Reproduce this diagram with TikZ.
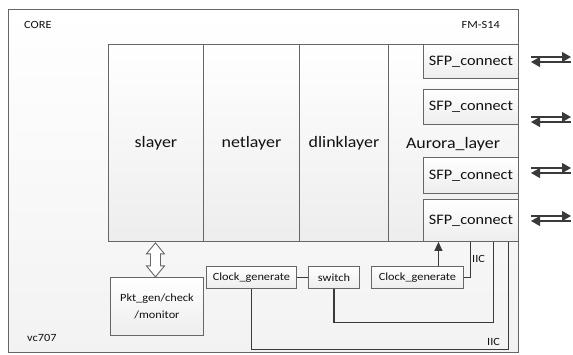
\documentclass[tikz,border=0pt]{standalone}
\usepackage{fontspec}
\setmainfont{Carlito}[FakeStretch=1.12]
\usetikzlibrary{arrows.meta,calc}
\definecolor{edge}{HTML}{666666}
\definecolor{wire}{HTML}{3A3A3A}
\definecolor{txt}{HTML}{111111}
\tikzset{
  boxbase/.style={draw=edge, line width=0.9pt, top color=white, bottom color=black!7, text=txt, inner sep=0pt, anchor=north west},
  layerbox/.style={boxbase, font=\fontsize{16}{18}\selectfont},
  sfpbox/.style={boxbase, minimum width=95pt, font=\fontsize{14.5}{16}\selectfont},
  smallbox/.style={boxbase, minimum height=22pt, font=\fontsize{11}{13}\selectfont},
  lbl/.style={text=txt, inner sep=0pt, font=\fontsize{11}{13}\selectfont},
  wireline/.style={draw=wire, line width=1.1pt},
  biarrow/.style={draw=wire, line width=1.2pt, -{Triangle[length=9pt,width=10pt]}},
}
\begin{document}
\begin{tikzpicture}[x=1pt,y=-1pt]
\useasboundingbox (0,0) rectangle (573,354);
% board
\node[boxbase, top color=white, bottom color=black!5, minimum width=510pt, minimum height=343pt] (board) at (8,9) {};
\node[lbl, anchor=west] (core) at (24,25) {CORE};
\node[lbl, anchor=east] (fms) at (500,25) {FM-S14};
\node[lbl, anchor=west] (vc) at (27,338) {vc707};
% layers
\node[layerbox, minimum width=95pt, minimum height=197pt] (slayer) at (108,44) {slayer};
\node[layerbox, minimum width=96pt, minimum height=197pt] (netlayer) at (203,44) {netlayer};
\node[layerbox, minimum width=89pt, minimum height=197pt] (dlink) at (299,44) {dlinklayer};
\node[layerbox, minimum width=130pt, minimum height=197pt] (aurora) at (388,44) {};
\node[font=\fontsize{16}{18}\selectfont, text=txt, inner sep=0pt] (auroralbl) at (453,144) {Aurora\_layer};
% SFP
\node[sfpbox, minimum height=34pt] (sfp1) at (423,44) {SFP\_connect};
\node[sfpbox, minimum height=35pt] (sfp2) at (423,89) {SFP\_connect};
\node[sfpbox, minimum height=36pt] (sfp3) at (423,157) {SFP\_connect};
\node[sfpbox, minimum height=42pt] (sfp4) at (423,199) {SFP\_connect};
% bottom blocks
\node[boxbase, minimum width=93pt, minimum height=58pt, align=center, font=\fontsize{11}{17}\selectfont] (pkt) at (110,277) {Pkt\_gen/check\\/monitor};
\node[smallbox, minimum width=90pt] (clk1) at (206,266) {Clock\_generate};
\node[smallbox, minimum width=51pt] (switch) at (308,266) {switch};
\node[smallbox, minimum width=92pt] (clk2) at (371,266) {Clock\_generate};
% hollow double arrow between slayer and pkt
\draw[draw=edge, line width=0.9pt, fill=white, line join=miter]
  ([xshift=-0.5pt,yshift=-1pt]slayer.south) -- ++(9,11) -- ++(-4,0) -- ++(0,12) -- ++(4,0)
  -- ++(-9,11) -- ++(-9,-11) -- ++(4,0) -- ++(0,-12) -- ++(-4,0) -- cycle;
% wires
\draw[wireline] (clk1.east) -- (switch.west);
\draw[wireline, -{Triangle[length=9pt,width=8pt]}] ([xshift=21pt]clk2.north) -- ([xshift=21pt]clk2.north |- sfp4.south);
\draw[wireline] ([xshift=-48pt]sfp4.south east) |- (clk2.east);
\draw[wireline] ([xshift=-25pt]sfp4.south east) |- ([yshift=-34pt]switch.south) -- (switch.south);
\draw[wireline] ([xshift=-10pt]sfp4.south east) |- ([yshift=-61pt]clk1.south) -- (clk1.south);
\node[lbl, anchor=west, font=\fontsize{11}{12}\selectfont] (iic1) at (472,259) {IIC};
\node[lbl, anchor=west, font=\fontsize{11}{12}\selectfont] (iic2) at (487,342) {IIC};
% external bidirectional arrows
\coordinate (a1l) at (531,57); \coordinate (a1r) at (571,57);
\coordinate (b1l) at (531,62); \coordinate (b1r) at (571,62);
\coordinate (a2l) at (531,117); \coordinate (a2r) at (571,117);
\coordinate (b2l) at (531,122); \coordinate (b2r) at (571,122);
\coordinate (a3l) at (531,168); \coordinate (a3r) at (571,168);
\coordinate (b3l) at (531,173); \coordinate (b3r) at (571,173);
\coordinate (a4l) at (531,216); \coordinate (a4r) at (571,216);
\coordinate (b4l) at (531,221); \coordinate (b4r) at (571,221);
\foreach \i in {1,2,3,4}{
  \draw[biarrow] (a\i l) -- (a\i r);
  \draw[biarrow] (b\i r) -- (b\i l);
}
\end{tikzpicture}
\end{document}
